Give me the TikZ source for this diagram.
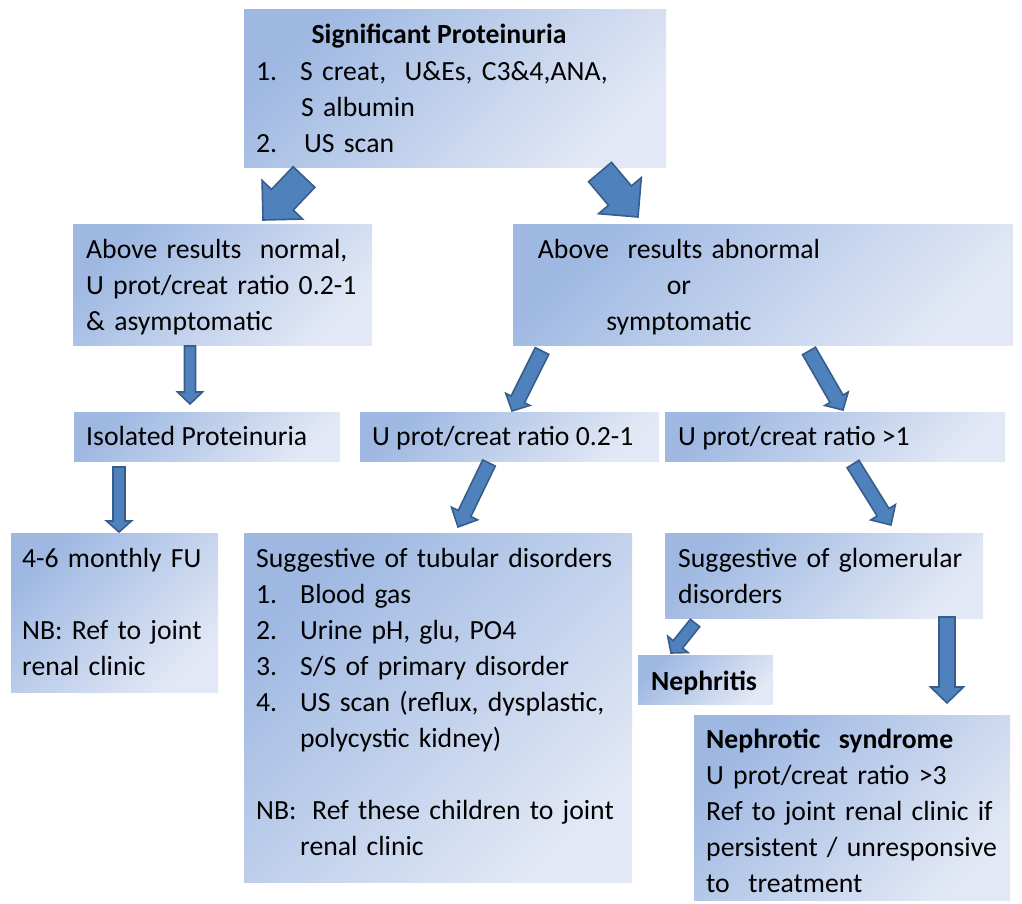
\documentclass[tikz,border=0pt]{standalone}
\usepackage{fontspec}
\setmainfont{Carlito}
\usetikzlibrary{calc}
\definecolor{boxdark}{RGB}{158,184,226}
\definecolor{boxlight}{RGB}{226,232,245}
\definecolor{arrowfill}{RGB}{79,129,189}
\definecolor{arrowline}{RGB}{56,93,138}
\tikzset{
  box/.style={draw=none, rectangle, inner sep=0pt, top color=boxdark, bottom color=boxlight, shading angle=45},
  txt/.style={inner sep=0pt, anchor=base west, font=\fontsize{27.7}{36}\selectfont},
  ctxt/.style={inner sep=0pt, anchor=base, text width=420pt, align=center, font=\fontsize{27.7}{36}\selectfont},
  ltxt/.style={inner sep=0pt, anchor=base west, text width=#1, align=left, font=\fontsize{27.7}{36}\selectfont},
  barrow/.style={draw=arrowline, fill=arrowfill, line width=1.6pt, line join=miter}
}
\newcommand\boxnode[5]{%
  \node[box, minimum width={#4-#2}, minimum height={#5-#3}] (#1) at ({(#2+#4)/2},{(#3+#5)/2}) {};}
\newcommand\blockarrow[5]{%
  \coordinate (#1-h) at ($(#2)!#5pt!(#1)$);
  \draw[barrow] ($(#1)!#3pt!90:(#2)$) -- ($(#1-h)!#3pt!90:(#2)$) -- ($(#1-h)!#4pt!90:(#2)$) -- (#2)
     -- ($(#1-h)!#4pt!-90:(#2)$) -- ($(#1-h)!#3pt!-90:(#2)$) -- ($(#1)!#3pt!-90:(#2)$) -- cycle;}
\newcommand\num[1]{\makebox[44pt][l]{#1}}
\begin{document}
\begin{tikzpicture}[x=1pt,y=-1pt]
\useasboundingbox (0,0) rectangle (1022,903);
% boxes
\boxnode{b1}{244}{9}{666}{167}
\boxnode{b2}{73}{224}{372}{345}
\boxnode{b3}{513}{224}{1013}{345}
\boxnode{b4}{74}{412}{340}{461}
\boxnode{b5}{360}{412}{659}{461}
\boxnode{b6}{665}{412}{1005}{461}
\boxnode{b7}{11}{533}{218}{692}
\boxnode{b8}{244}{533}{632}{882}
\boxnode{b9}{665}{533}{983}{618}
\boxnode{b10}{638}{655}{773}{704}
\boxnode{b11}{694}{715}{1010}{900}
% texts
\node[txt, anchor=base, font=\bfseries\fontsize{27.7}{36}\selectfont] (t1a) at (439,43) {Significant Proteinuria};
\node[ltxt=400pt] (t1b) at (256,80) {\num{1.}S creat,\ \ U\&Es, C3\&4,ANA,\\\hspace*{45pt}S albumin\\\makebox[48pt][l]{2.}US scan};
\node[ltxt=290pt] (t2) at (86,258) {Above results\ \ normal,\\U prot/creat ratio 0.2-1\\\& asymptomatic};
\node[ctxt] (t3) at (679,258) {Above\ \ results abnormal\\or\\symptomatic};
\node[txt] (t4) at (86,445) {Isolated Proteinuria};
\node[txt] (t5) at (372,445) {U prot/creat ratio 0.2-1};
\node[txt] (t6) at (678,445) {U prot/creat ratio >1};
\node[ltxt=200pt] (t7) at (22,567) {4-6 monthly FU\\[36pt]NB: Ref to joint\\renal clinic};
\node[ltxt=380pt] (t8) at (256,567) {Suggestive of tubular disorders\\\num{1.}Blood gas\\\num{2.}Urine pH, glu, PO4\\\num{3.}S/S of primary disorder\\\num{4.}US scan (reflux, dysplastic,\\\hspace*{44pt}polycystic kidney)\\[36pt]\makebox[56pt][l]{NB:}Ref these children to joint\\\hspace*{44pt}renal clinic};
\node[ltxt=310pt] (t9) at (678,567) {Suggestive of glomerular\\disorders};
\node[txt, font=\bfseries\fontsize{27.7}{36}\selectfont] (t10) at (651,690) {Nephritis};
\node[ltxt=310pt] (t11) at (706,748) {\textbf{Nephrotic\ \ syndrome}\\U prot/creat ratio >3\\Ref to joint renal clinic if\\persistent / unresponsive\\to\ \ treatment};
% arrows
\coordinate (a1) at (304,177);  \coordinate (a1t) at (263,220);
\coordinate (a2) at (600,172);  \coordinate (a2t) at (638,217);
\coordinate (a3) at (190,346);  \coordinate (a3t) at (190,404);
\coordinate (a4) at (119,467);  \coordinate (a4t) at (119,532);
\coordinate (a5) at (542,351);  \coordinate (a5t) at (512,411);
\coordinate (a6) at (809,351);  \coordinate (a6t) at (843,410);
\coordinate (a7) at (489,463);  \coordinate (a7t) at (458,527);
\coordinate (a8) at (853,464);  \coordinate (a8t) at (891,525);
\coordinate (a9) at (695,623);  \coordinate (a9t) at (671,653);
\coordinate (a10) at (947,617); \coordinate (a10t) at (947,703);
\blockarrow{a1}{a1t}{15}{28}{28}
\blockarrow{a2}{a2t}{15}{28}{28}
\blockarrow{a3}{a3t}{5.5}{12.5}{12}
\blockarrow{a4}{a4t}{6}{12.5}{11}
\blockarrow{a5}{a5t}{7.5}{13.5}{13}
\blockarrow{a6}{a6t}{7.5}{13.5}{13}
\blockarrow{a7}{a7t}{7}{14.5}{15}
\blockarrow{a8}{a8t}{7}{14.5}{15}
\blockarrow{a9}{a9t}{6}{13}{11}
\blockarrow{a10}{a10t}{8}{16.5}{16}
\end{tikzpicture}
\end{document}
